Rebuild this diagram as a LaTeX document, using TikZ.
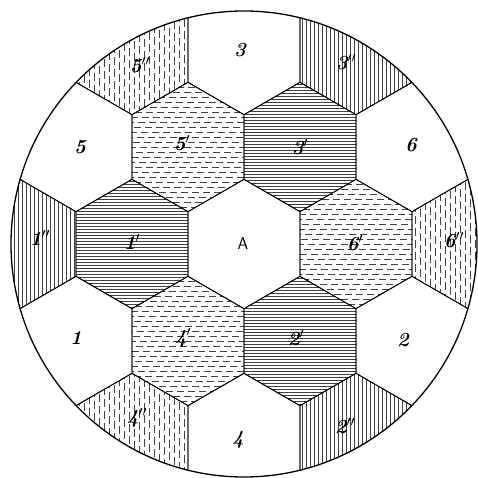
\documentclass[tikz,border=0pt]{standalone}
\usepackage{fontspec}
\begin{document}
\begin{tikzpicture}[x=1pt,y=1pt,
  hatch/.style={line width=0.5pt,draw=black!75},
  cellborder/.style={line width=0.8pt,draw=black},
  rim/.style={line width=1.3pt,draw=black},
  lab/.style={font=\fontsize{20}{20}\selectfont\bfseries\itshape,inner sep=0pt},
  laba/.style={font=\fontsize{17}{17}\selectfont\sffamily,inner sep=0pt}]
\def\R{64.66}
\def\hexshape{(30:\R) -- (90:\R) -- (150:\R) -- (210:\R) -- (270:\R) -- (330:\R) -- cycle}
\useasboundingbox (-244,-234) rectangle (234,244);
% hex centres
\coordinate (cA) at (0,0);
\coordinate (c6p) at (0:112);   \coordinate (c3p) at (60:112);  \coordinate (c5p) at (120:112);
\coordinate (c1p) at (180:112); \coordinate (c4p) at (240:112); \coordinate (c2p) at (300:112);
\coordinate (c6pp) at (0:224);   \coordinate (c3pp) at (60:224);  \coordinate (c5pp) at (120:224);
\coordinate (c1pp) at (180:224); \coordinate (c4pp) at (240:224); \coordinate (c2pp) at (300:224);
\coordinate (c6) at (30:193.99);  \coordinate (c3) at (90:193.99);  \coordinate (c5) at (150:193.99);
\coordinate (c1) at (210:193.99); \coordinate (c4) at (270:193.99); \coordinate (c2) at (330:193.99);
\begin{scope}
\clip (0,0) circle (233);
% solid horizontal: 1', 3', 2'
\foreach \c in {c1p,c3p,c2p}{
  \begin{scope}[shift={(\c)}]
  \clip \hexshape;
  \foreach \t in {-66,-63,...,66} \draw[hatch] (-60,\t) -- (60,\t);
  \end{scope}}
% dashed horizontal: 5', 6', 4'
\foreach \c in {c5p,c6p,c4p}{
  \begin{scope}[shift={(\c)}]
  \clip \hexshape;
  \foreach[count=\i] \t in {-65,-60,...,65}{
    \pgfmathtruncatemacro\ph{mod(\i*7,11)}
    \draw[hatch,dash pattern=on 7pt off 4pt,dash phase=\ph pt] (-60,\t) -- (60,\t);}
  \end{scope}}
% solid vertical: 1'', 3'', 2''
\foreach \c in {c1pp,c3pp,c2pp}{
  \begin{scope}[shift={(\c)}]
  \clip \hexshape;
  \foreach \t in {-58,-54,...,58} \draw[hatch] (\t,-66) -- (\t,66);
  \end{scope}}
% dashed vertical: 5'', 6'', 4''
\foreach \c in {c5pp,c6pp,c4pp}{
  \begin{scope}[shift={(\c)}]
  \clip \hexshape;
  \foreach[count=\i] \t in {-58,-53,...,58}{
    \pgfmathtruncatemacro\ph{mod(\i*5,12)}
    \draw[hatch,dash pattern=on 8pt off 4pt,dash phase=\ph pt] (\t,-66) -- (\t,66);}
  \end{scope}}
% outlines
\foreach \c in {cA,c1p,c2p,c3p,c4p,c5p,c6p,c1pp,c2pp,c3pp,c4pp,c5pp,c6pp,c1,c2,c3,c4,c5,c6}{
  \begin{scope}[shift={(\c)}]
  \draw[cellborder] \hexshape;
  \end{scope}}
\end{scope}
\draw[rim] (0,0) circle (233);
% labels
\node[laba] (lA) at (-1,0) {A};
\node[lab] (l3) at (-4,194) {3};
\node[lab] (l5) at (-164,97) {5};
\node[lab] (l6) at (167,99) {6};
\node[lab] (l1) at (-168,-94) {1};
\node[lab] (l2) at (159,-96) {2};
\node[lab] (l4) at (-6,-196) {4};
\node[lab] (l3p) at (56,97) {3$'$};
\node[lab] (l5p) at (-62,101) {5$'$};
\node[lab] (l1p) at (-112,2) {1$'$};
\node[lab] (l6p) at (111,1) {6$'$};
\node[lab] (l4p) at (-61,-94) {4$'$};
\node[lab] (l2p) at (52,-94) {2$'$};
\node[lab] (l5pp) at (-104,179) {5$''$};
\node[lab] (l3pp) at (102,182) {3$''$};
\node[lab] (l1pp) at (-204,6) {1$''$};
\node[lab] (l6pp) at (210,4) {6$''$};
\node[lab] (l4pp) at (-107,-174) {4$''$};
\node[lab] (l2pp) at (101,-182) {2$''$};
\end{tikzpicture}
\end{document}
